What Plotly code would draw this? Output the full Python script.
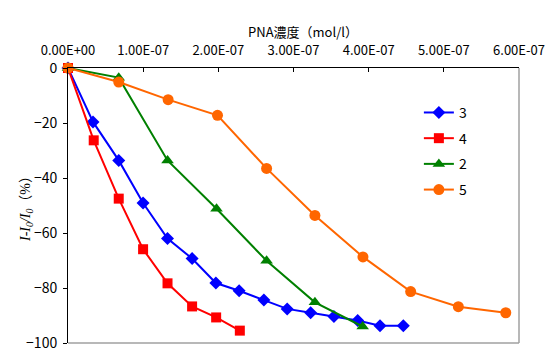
import plotly.graph_objects as go

# Data (x in mol/l, y in %)
x_s3 = [0, 0.333e-7, 0.675e-7, 0.999e-7, 1.324e-7, 1.651e-7, 1.967e-7, 2.277e-7,
        2.606e-7, 2.916e-7, 3.228e-7, 3.538e-7, 3.854e-7, 4.151e-7, 4.461e-7]
y_s3 = [0, -19.6, -33.6, -49.1, -62.0, -69.3, -78.2, -81.0,
        -84.4, -87.6, -89.0, -90.4, -91.8, -93.7, -93.7]

x_s4 = [0, 0.342e-7, 0.675e-7, 0.999e-7, 1.324e-7, 1.651e-7, 1.971e-7, 2.286e-7]
y_s4 = [0, -26.3, -47.5, -65.9, -78.3, -86.7, -90.7, -95.5]

x_s2 = [0, 0.675e-7, 1.324e-7, 1.976e-7, 2.642e-7, 3.285e-7, 3.920e-7]
y_s2 = [0, -3.5, -33.6, -51.2, -70.1, -85.2, -94.0]

x_s5 = [0, 0.675e-7, 1.332e-7, 1.989e-7, 2.642e-7, 3.285e-7, 3.924e-7, 4.559e-7, 5.193e-7, 5.824e-7]
y_s5 = [0, -5.1, -11.5, -17.2, -36.5, -53.6, -68.7, -81.3, -86.8, -89.0]

x_tickvals = [0, 1e-7, 2e-7, 3e-7, 4e-7, 5e-7, 6e-7]
x_ticktext = ["0.00E+00", "1.00E-07", "2.00E-07", "3.00E-07", "4.00E-07", "5.00E-07", "6.00E-07"]
y_tickvals = [0, -20, -40, -60, -80, -100]

FONT = "Noto Sans CJK JP, Liberation Sans, sans-serif"

fig = go.Figure()
series = [
    ("3", x_s3, y_s3, "#0000FF", "diamond", 10),
    ("4", x_s4, y_s4, "#FF0000", "square", 10),
    ("2", x_s2, y_s2, "#008000", "triangle-up", 11),
    ("5", x_s5, y_s5, "#FF6600", "circle", 11),
]
for name, xs, ys, col, sym, sz in series:
    fig.add_trace(go.Scatter(
        x=xs, y=ys, name=name, mode="lines+markers",
        line=dict(color=col, width=2),
        marker=dict(color=col, symbol=sym, size=sz, line=dict(width=0)),
        cliponaxis=False, legendgroup=name,
    ))

fig.update_layout(
    width=549, height=349,
    margin=dict(l=68, r=30, t=68, b=6),
    paper_bgcolor="white", plot_bgcolor="white",
    font=dict(family=FONT, size=12, color="black"),
    showlegend=True,
    legend=dict(x=0.778, y=0.895, xanchor="left", yanchor="top",
                font=dict(family=FONT, size=14, color="black"),
                tracegroupgap=4.5, bgcolor="rgba(0,0,0,0)", borderwidth=0),
    xaxis=dict(range=[0, 6e-7], side="top", tickvals=x_tickvals, ticktext=x_ticktext,
               showgrid=False, zeroline=False, showline=True, linecolor="black", linewidth=1,
               ticks="inside", ticklen=4, tickcolor="black", automargin=False,
               ticklabelstandoff=7, ticklabeloverflow="allow",
               tickfont=dict(family=FONT, size=13, color="black")),
    yaxis=dict(range=[-100, 0], tickvals=y_tickvals,
               showgrid=False, zeroline=False, showline=True, linecolor="black", linewidth=1,
               ticks="outside", ticklen=4, tickcolor="black", automargin=False,
               ticklabelstandoff=3, ticklabeloverflow="allow",
               tickfont=dict(family=FONT, size=14, color="black")),
)

# right and bottom gray border of plot area
fig.add_shape(type="line", xref="x domain", yref="y domain", x0=1, x1=1, y0=0, y1=1,
              line=dict(color="#A0A0A0", width=1.5))
fig.add_shape(type="line", xref="x domain", yref="y domain", x0=0, x1=1, y0=0, y1=0,
              line=dict(color="#A0A0A0", width=1.5))

# x-axis title
fig.add_annotation(text="PNA濃度（mol/l）", xref="paper", yref="paper",
                   x=0.52, y=1.0, yshift=48, showarrow=False,
                   font=dict(family=FONT, size=13, color="black"))
# y-axis title
fig.add_annotation(text="<i>I-I<sub>0</sub>/I<sub>0</sub></i>（%）", xref="paper", yref="paper",
                   x=0, y=0.5, xshift=-52, textangle=-90, showarrow=False,
                   font=dict(family="Liberation Serif, Noto Sans CJK JP", size=14, color="black"))

fig.write_html("out.html", config={"displayModeBar": False},
               post_script="document.body.style.margin='0';")
